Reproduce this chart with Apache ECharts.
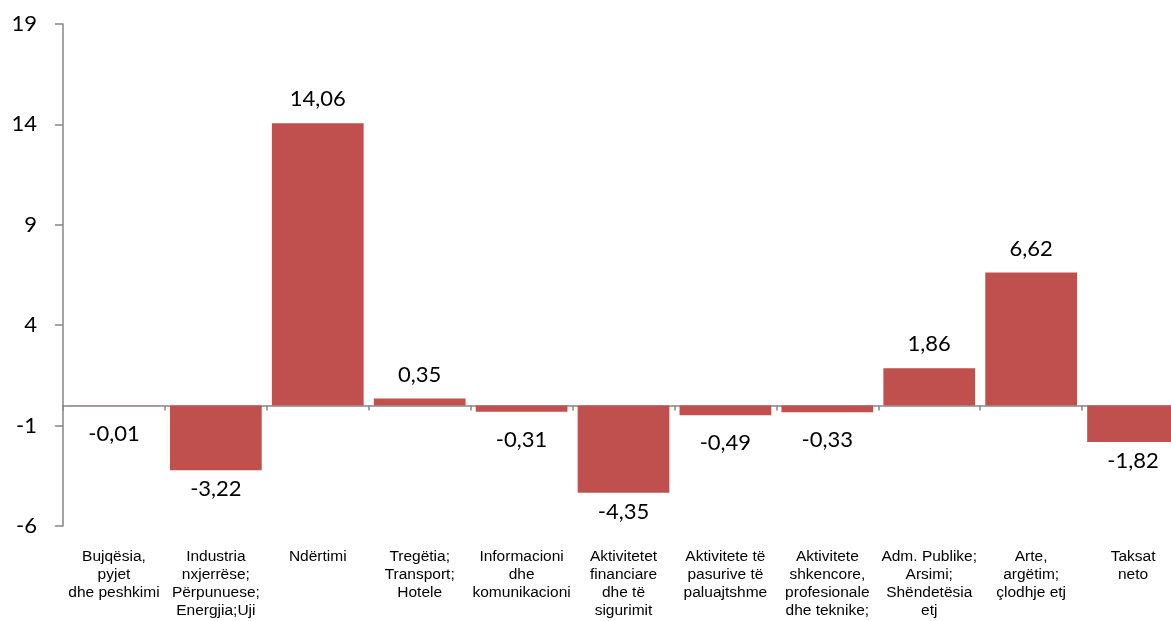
<!DOCTYPE html>
<html>
<head>
<meta charset="utf-8">
<script src="https://cdn.jsdelivr.net/npm/echarts@6/dist/echarts.min.js"></script>
<style>
html,body{margin:0;padding:0;background:#fff;overflow:hidden;}
#chart{width:1184px;height:621px;}
</style>
</head>
<body>
<div id="chart"></div>
<script>
var categories = [
  "Bujqësia,\npyjet\ndhe peshkimi",
  "Industria\nnxjerrëse;\nPërpunuese;\nEnergjia;Uji",
  "Ndërtimi",
  "Tregëtia;\nTransport;\nHotele",
  "Informacioni\ndhe\nkomunikacioni",
  "Aktivitetet\nfinanciare\ndhe të\nsigurimit",
  "Aktivitete të\npasurive të\npaluajtshme",
  "Aktivitete\nshkencore,\nprofesionale\ndhe teknike;",
  "Adm. Publike;\nArsimi;\nShëndetësia\netj",
  "Arte,\nargëtim;\nçlodhje etj",
  "Taksat\nneto"
];
var values = [-0.01, -3.22, 14.06, 0.35, -0.31, -4.35, -0.49, -0.33, 1.86, 6.62, -1.82];
var yTicks = { min: -6, max: 19, interval: 5 };

var chart = echarts.init(document.getElementById('chart'));
var valueFont = 'Lato, "Open Sans", sans-serif';

var seriesData = values.map(function (v) {
  var dist = v >= 0 ? 13 : (Math.abs(v) < 1 ? 17 : 8);
  return {
    value: v,
    label: { position: v >= 0 ? 'top' : 'bottom', distance: dist }
  };
});

chart.setOption({
  animation: false,
  backgroundColor: '#ffffff',
  grid: { left: 63, top: 24, right: 0, bottom: 95, containLabel: false },
  xAxis: [
    {
      type: 'category',
      data: categories,
      boundaryGap: true,
      axisLine: { show: true, onZero: true, lineStyle: { color: '#868686', width: 1.5 } },
      axisTick: { show: true, length: 5, inside: false, lineStyle: { color: '#868686', width: 1.5 } },
      axisLabel: { show: false },
      splitLine: { show: false }
    },
    {
      type: 'category',
      data: categories,
      position: 'bottom',
      boundaryGap: true,
      axisLine: { show: false, onZero: false },
      axisTick: { show: false },
      axisLabel: {
        show: true,
        interval: 0,
        margin: 22,
        color: '#000',
        fontFamily: '"Liberation Sans", Arial, sans-serif',
        fontSize: 15.5,
        lineHeight: 18,
        align: 'center',
        verticalAlign: 'top'
      },
      splitLine: { show: false }
    }
  ],
  yAxis: {
    type: 'value',
    min: yTicks.min,
    max: yTicks.max,
    interval: yTicks.interval,
    axisLine: { show: true, lineStyle: { color: '#868686', width: 1.5 } },
    axisTick: { show: true, length: 8, inside: false, lineStyle: { color: '#868686', width: 1.5 } },
    axisLabel: { color: '#000', fontFamily: valueFont, fontSize: 22, margin: 26 },
    splitLine: { show: false }
  },
  series: [{
    type: 'bar',
    xAxisIndex: 0,
    data: seriesData,
    barCategoryGap: '10%',
    itemStyle: { color: '#C0504D' },
    label: {
      show: true,
      color: '#000',
      fontFamily: valueFont,
      fontSize: 22,
      formatter: function (p) { return p.value.toFixed(2).replace('.', ','); }
    }
  }]
});
</script>
</body>
</html>
